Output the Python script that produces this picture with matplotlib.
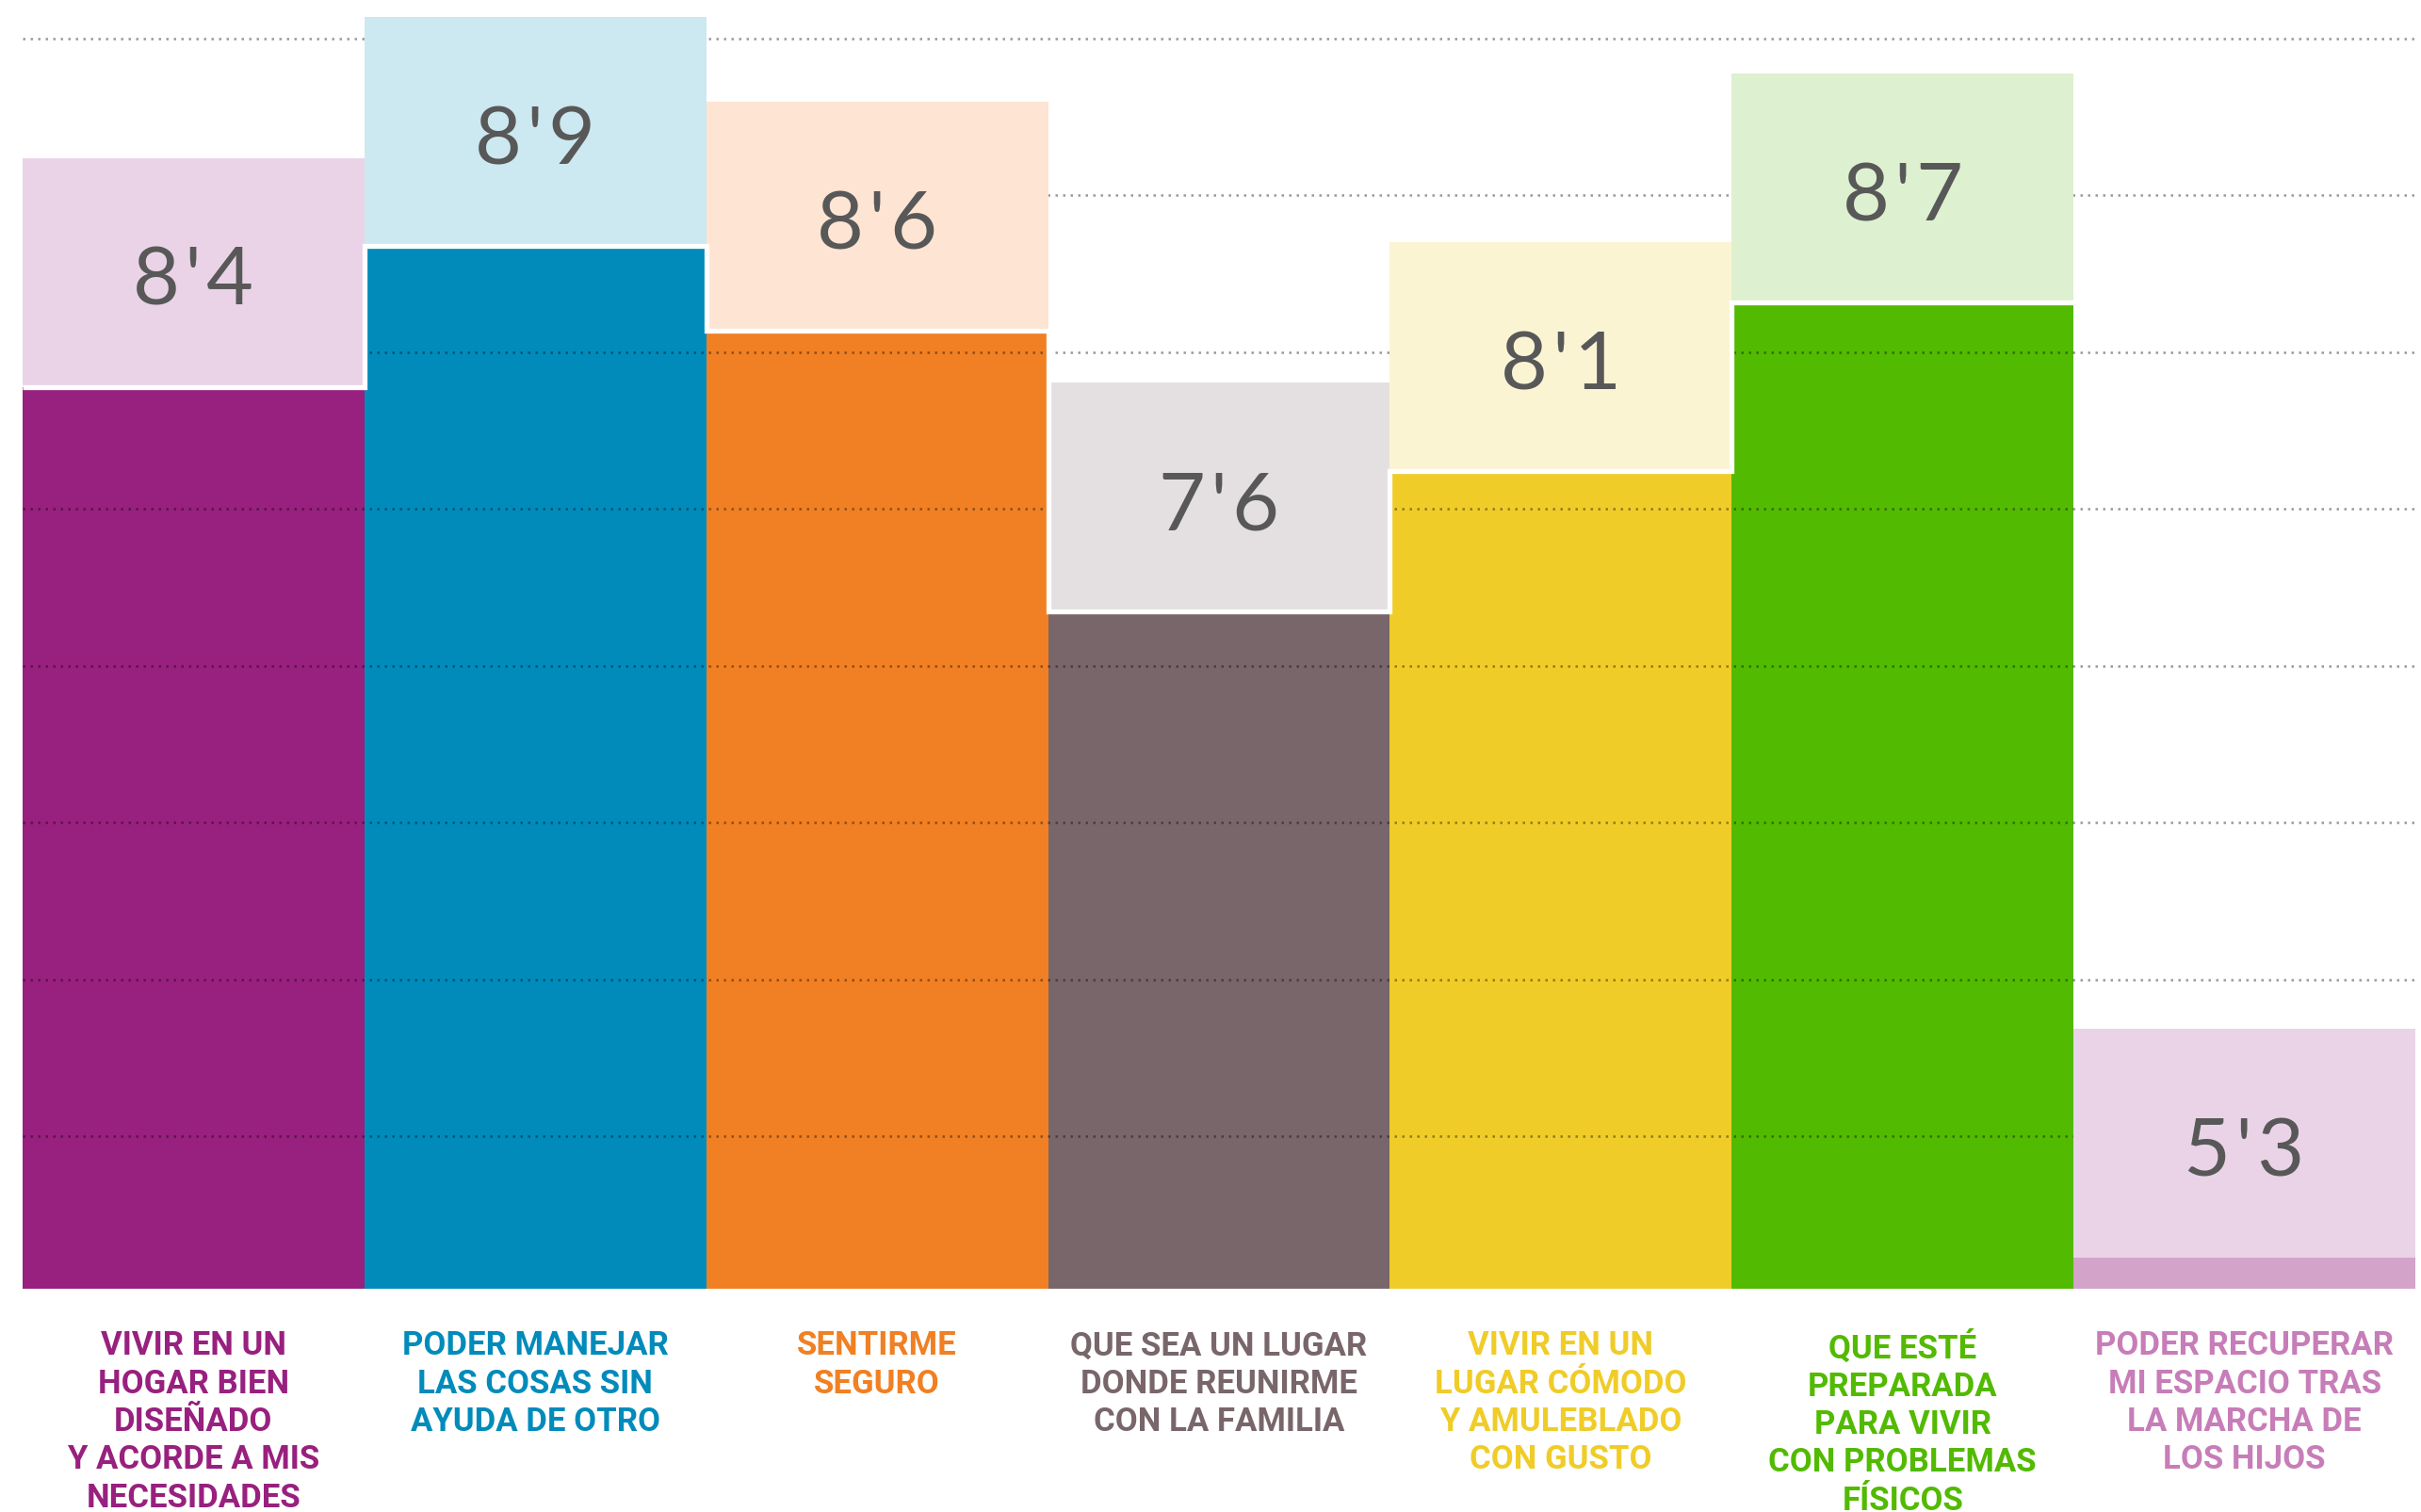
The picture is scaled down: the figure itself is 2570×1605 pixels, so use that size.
import numpy as np
import matplotlib
matplotlib.use("Agg")
import matplotlib.pyplot as plt

categories = [
    "VIVIR EN UN\nHOGAR BIEN\nDISEÑADO\nY ACORDE A MIS\nNECESIDADES",
    "PODER MANEJAR\nLAS COSAS SIN\nAYUDA DE OTRO",
    "SENTIRME\nSEGURO",
    "QUE SEA UN LUGAR\nDONDE REUNIRME\nCON LA FAMILIA",
    "VIVIR EN UN\nLUGAR CÓMODO\nY AMULEBLADO\nCON GUSTO",
    "QUE ESTÉ\nPREPARADA\nPARA VIVIR\nCON PROBLEMAS\nFÍSICOS",
    "PODER RECUPERAR\nMI ESPACIO TRAS\nLA MARCHA DE\nLOS HIJOS",
]
scores = [8.4, 8.9, 8.6, 7.6, 8.1, 8.7, 5.3]

bar_colors = ["#98207E", "#008BBB", "#F08023", "#78666A",
              "#F0CC28", "#52BA00", "#D4A3CA"]
box_colors = ["#EAD3E7", "#CCE8F1", "#FDE4D3", "#E4E0E1",
              "#FBF4D3", "#DDF0D0", "#EAD3E7"]
text_colors = ["#98207E", "#008BBB", "#F08023", "#78666A",
               "#F0CC28", "#52BA00", "#C77DB8"]

W, H = 2570, 1605
y_min, y_max = 5.189, 9.777
box_h = 0.815

fig = plt.figure(figsize=(W / 100, H / 100), dpi=100)
ax = fig.add_axes([24 / W, 237 / H, 2540 / W, 1368 / H])

x = np.arange(len(scores))
s = np.array(scores)

# dark bars from the floor up to the score
ax.bar(x, s - y_min, bottom=y_min, width=1.0, color=bar_colors,
       linewidth=0, zorder=1)
# light label boxes sitting on top of each bar
ax.bar(x, box_h, bottom=s, width=1.0, color=box_colors,
       linewidth=0, zorder=3)

# white step outline along the tops (not on the last column)
step = ax.stairs(s[:6], edges=np.arange(7) - 0.5, baseline=None,
                 color="white", linewidth=3.8, zorder=4)
step.set_joinstyle("miter")

# value labels, baseline a bit under the box middle
for i, v in enumerate(scores):
    lab = f"{v:.1f}".replace(".", "\u200a'\u200a")
    ax.text(i, v + box_h / 2 - 0.117, lab,
            ha="center", va="baseline", fontsize=62, fontweight="normal",
            family=["Lato", "DejaVu Sans"], color="#585858", zorder=5)

for i, (cat, c) in enumerate(zip(categories, text_colors)):
    ax.annotate(cat, xy=(i, 0), xycoords=ax.get_xaxis_transform(),
                xytext=(0, -32), textcoords="offset points",
                ha="center", va="top", fontsize=25, fontweight="bold",
                family=["Roboto", "DejaVu Sans"],
                color=c, linespacing=1.28, annotation_clip=False)

# dotted guide lines, evenly spaced in axes height
grid_frac = (166.43 * np.arange(1, 9) - 4.4) / 1368
ax.set_yticks(y_min + (y_max - y_min) * grid_frac)
ax.yaxis.grid(True, color="black", alpha=0.4, linewidth=1.8,
              linestyle=(0, (1, 2.2)))
ax.set_axisbelow(False)
for gl in ax.get_ygridlines():
    gl.set_zorder(2)

ax.set_xlim(-0.5, len(scores) - 0.5)
ax.set_ylim(y_min, y_max)
ax.set_xticks([])
ax.tick_params(left=False, labelleft=False)
for sp in ax.spines.values():
    sp.set_visible(False)

fig.savefig("out.png", dpi=100)
plt.close(fig)
